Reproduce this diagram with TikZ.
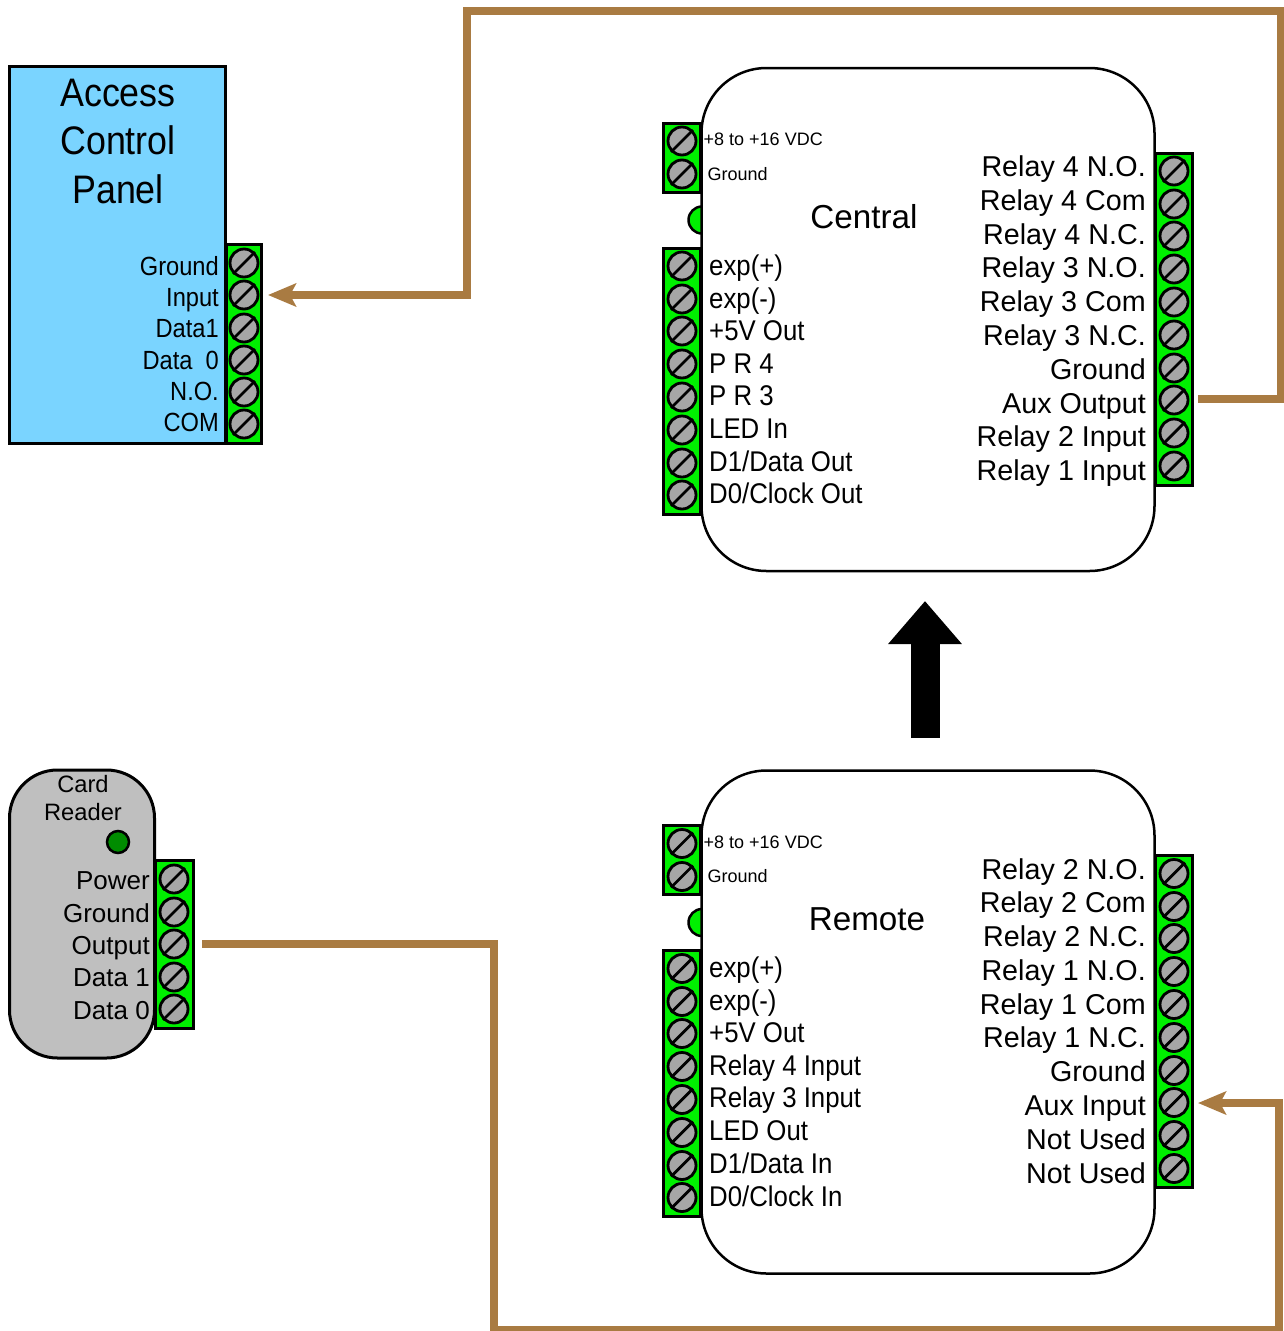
\documentclass[tikz,border=0pt]{standalone}
\usepackage{fontspec}
\setmainfont{Liberation Sans}
\usetikzlibrary{arrows.meta}
\definecolor{wirebrown}{HTML}{A97B42}
\definecolor{panelblue}{HTML}{7AD4FF}
\definecolor{readergray}{HTML}{BFBFBF}
\definecolor{screwgray}{HTML}{A6A6A6}
\definecolor{termgreen}{HTML}{00F000}
\tikzset{
    modbox/.style={draw, line width=2.5pt, fill=white, rounded corners=65pt, minimum width=453pt, minimum height=503pt, inner sep=0pt},
    strip/.style={draw, line width=3pt, fill=termgreen, inner sep=0pt},
    screw/.style={circle, draw, line width=2.8pt, fill=screwgray, minimum size=28pt, inner sep=0pt},
    wire/.style={draw=wirebrown, line width=8pt, miter limit=10},
    wiretip/.style={-{Stealth[length=28pt,width=23pt,inset=6pt,wirebrown]}},
    lab/.style={font=\fontsize{28.7}{30}\selectfont, inner sep=0pt},
    labl/.style={font=\fontsize{28.5}{30}\selectfont, inner sep=0pt, xscale=0.905, transform shape},
    tiny/.style={font=\fontsize{18}{20}\selectfont, inner sep=0pt},
    rdr/.style={font=\fontsize{26}{28}\selectfont, inner sep=0pt},
    pan/.style={font=\fontsize{26.3}{28}\selectfont, inner sep=0pt, xscale=0.9, transform shape},
    ttl/.style={font=\fontsize{33.2}{36}\selectfont, inner sep=0pt}
}
\newcommand{\slashscrew}[3]{%
    \node[screw] (#1) at (#2,#3) {};
    \draw[line width=2.8pt] (#1.south west) -- (#1.north east);
}
\begin{document}
\begin{tikzpicture}[x=1pt, y=-1pt]
    \useasboundingbox (0,0) rectangle (1284,1331);

    % Modules
    \foreach \m/\dy in {cen/0, rem/702.5} {
        \filldraw[fill=termgreen, line width=2.5pt] (702,220+\dy) circle (13.5);
        \node[modbox] (\m box) at (928,319.5+\dy) {};
        \node[tiny, anchor=base west] (\m vdc) at (703.5,145.5+\dy) {+8 to +16 VDC};
        \node[tiny, anchor=base west] (\m gnd) at (707.5,180+\dy) {Ground};
        \node[strip, minimum width=37pt, minimum height=69pt] (\m pow) at (682,157.5+\dy) {};
        \node[strip, minimum width=37pt, minimum height=266pt] (\m left) at (682,381+\dy) {};
        \node[strip, minimum width=37pt, minimum height=332pt] (\m right) at (1173.5,319+\dy) {};
        \foreach \y [count=\i] in {141,174} {\slashscrew{\m p\i}{682}{\y+\dy}}
        \foreach \y [count=\i] in {266,299,331,364,397,430,463,495} {\slashscrew{\m l\i}{682}{\y+\dy}}
        \foreach \y [count=\i] in {171,204,236,269,302,335,368,400,433,466} {\slashscrew{\m r\i}{1174}{\y+\dy}}
    }

    % Central labels
    \node[ttl] (centitle) at (864,217) {Central};
    \foreach \y/\txt [count=\i] in {275/exp(+), 308/exp(-), 340.5/+5V Out, 373/P R 4, 405/P R 3, 438/LED In, 471/{D1/Data Out}, 503/{D0/Clock Out}}
        \node[labl, anchor=base west] (cenll\i) at (709,\y) {\txt};
    \foreach \y/\txt [count=\i] in {176/Relay 4 N.O., 210/Relay 4 Com, 244/Relay 4 N.C., 277/Relay 3 N.O., 311/Relay 3 Com, 345/Relay 3 N.C., 379/Ground, 413/Aux Output, 446/Relay 2 Input, 480/Relay 1 Input}
        \node[lab, anchor=base east] (cenrl\i) at (1146,\y) {\txt};

    % Remote labels
    \node[ttl] (remtitle) at (867,919) {Remote};
    \foreach \y/\txt [count=\i] in {977/exp(+), 1010/exp(-), 1042.5/+5V Out, 1075/Relay 4 Input, 1107/Relay 3 Input, 1140/LED Out, 1173/{D1/Data In}, 1206/{D0/Clock In}}
        \node[labl, anchor=base west] (remll\i) at (709,\y) {\txt};
    \foreach \y/\txt [count=\i] in {879/Relay 2 N.O., 912/Relay 2 Com, 946/Relay 2 N.C., 980/Relay 1 N.O., 1014/Relay 1 Com, 1047/Relay 1 N.C., 1081/Ground, 1115/Aux Input, 1149/Not Used, 1183/Not Used}
        \node[lab, anchor=base east] (remrl\i) at (1146,\y) {\txt};

    % Access control panel
    \node[draw, line width=3pt, fill=panelblue, minimum width=216pt, minimum height=377pt] (panel) at (117.5,254.5) {};
    \foreach \y/\txt [count=\i] in {93/Access, 140.5/Control, 189.5/Panel}
        \node[font=\fontsize{39.8}{42}\selectfont, inner sep=0pt, xscale=0.9, transform shape] (pant\i) at (118,\y) {\txt};
    \foreach \y/\txt [count=\i] in {275/Ground, 306/Input, 337/Data1, 369/Data\ \ 0, 400/N.O., 431/COM}
        \node[pan, anchor=base east] (panl\i) at (219,\y) {\txt};
    \node[strip, minimum width=35pt, minimum height=199pt] (panelstrip) at (243.5,343.5) {};
    \foreach \y [count=\i] in {263,295,328,360,392,424} {\slashscrew{pans\i}{244}{\y}}

    % Card reader
    \node[draw, line width=3pt, fill=readergray, rounded corners=48pt, minimum width=145pt, minimum height=288pt] (reader) at (82,914) {};
    \foreach \y/\txt [count=\i] in {792/Card, 820/Reader}
        \node[font=\fontsize{23.7}{25}\selectfont, inner sep=0pt, anchor=base] (rdrt\i) at (83,\y) {\txt};
    \foreach \y/\txt [count=\i] in {889/Power, 922/Ground, 954/Output, 986/Data 1, 1019/Data 0}
        \node[rdr, anchor=base east] (rdrl\i) at (150,\y) {\txt};
    \node[strip, minimum width=38pt, minimum height=168pt] (readerstrip) at (174,944) {};
    \filldraw[fill=green!55!black, line width=2.5pt] (118,842) circle (11) node (readerled) {};
    \foreach \y [count=\i] in {879,912,944,977,1009} {\slashscrew{rdrs\i}{174}{\y}}

    % Wires
    \coordinate (auxout) at (1198,399);
    \coordinate (paninput) at (268,295);
    \coordinate (rdrout) at (202,944);
    \coordinate (auxin) at (1198,1103);
    \draw[wire, wiretip] (auxout) -- ++(83,0) -- ++(0,-388) -- (467,11) -- (467,295) -- (paninput);
    \draw[wire, wiretip] (rdrout) -- (494,944) -- (494,1330) -- (1279,1330) -- (1279,1103) -- (auxin);

    % Big arrow
    \coordinate (upfrom) at (925,738);
    \coordinate (upto) at (925,601);
    \draw[line width=29pt, -{Triangle[length=43pt,width=71pt]}] (upfrom) -- (upto);
\end{tikzpicture}
\end{document}
